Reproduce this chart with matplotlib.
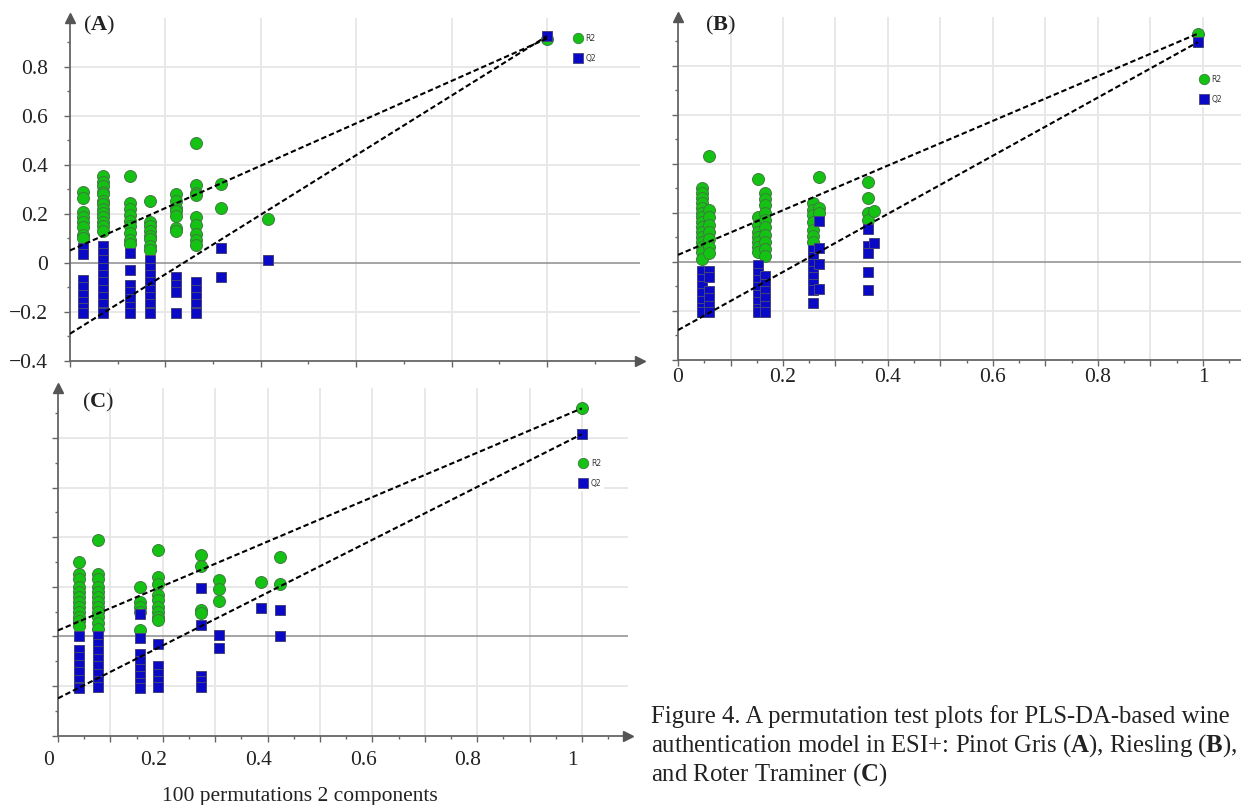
import numpy as np
import matplotlib
matplotlib.use('Agg')
import matplotlib.pyplot as plt
from matplotlib.lines import Line2D
import matplotlib.transforms as mtransforms

plt.rcParams['font.family'] = ['Liberation Serif', 'DejaVu Serif']
plt.rcParams['mathtext.fontset'] = 'custom'
plt.rcParams['mathtext.rm'] = 'Liberation Serif'
plt.rcParams['mathtext.bf'] = 'Liberation Serif:bold'

# ---------------- data ----------------
# Panel A (Pinot Gris)
a_cols = [0.027, 0.069, 0.126, 0.168, 0.222, 0.264, 0.317, 0.415]
a_r2 = [[0.287, 0.265, 0.208, 0.188, 0.167, 0.147, 0.113, 0.10],
        [0.355, 0.33, 0.313, 0.29, 0.279, 0.25, 0.238, 0.22, 0.202, 0.185, 0.167, 0.15, 0.129],
        [0.355, 0.242, 0.22, 0.195, 0.17, 0.15, 0.12, 0.093, 0.075],
        [0.253, 0.167, 0.15, 0.13, 0.11, 0.095, 0.07, 0.052],
        [0.28, 0.25, 0.225, 0.21, 0.19, 0.14, 0.13],
        [0.49, 0.316, 0.285, 0.275, 0.187, 0.153, 0.119, 0.092, 0.072],
        [0.32, 0.225],
        [0.18]]
a_q2 = [[0.06, 0.035, -0.07, -0.10, -0.13, -0.16, -0.185, -0.205],
        [0.07, 0.04, 0.01, -0.02, -0.05, -0.08, -0.11, -0.14, -0.17, -0.2, -0.205],
        [0.038, -0.03, -0.09, -0.12, -0.15, -0.18, -0.205],
        [0.01, -0.02, -0.05, -0.08, -0.11, -0.14, -0.17, -0.2, -0.205],
        [-0.057, -0.091, -0.118, -0.206],
        [-0.08, -0.11, -0.14, -0.17, -0.2, -0.205],
        [0.06, -0.06],
        [0.01]]
a_model_x, a_model_r2, a_model_q2 = 1.0, 0.915, 0.925
a_int_r2, a_int_q2 = 0.05, -0.29

# Panel B (Riesling)
b_cols = [0.045, 0.059, 0.152, 0.166, 0.257, 0.269, 0.362, 0.374]
b_r2 = [[0.30, 0.28, 0.26, 0.24, 0.22, 0.20, 0.18, 0.16, 0.14, 0.12, 0.10, 0.08, 0.06, 0.04, 0.01],
        [0.43, 0.21, 0.18, 0.15, 0.12, 0.09, 0.06, 0.035],
        [0.336, 0.18, 0.15, 0.12, 0.10, 0.08, 0.06, 0.04],
        [0.281, 0.255, 0.23, 0.20, 0.17, 0.14, 0.11, 0.08, 0.05, 0.022],
        [0.24, 0.21, 0.19, 0.16, 0.13, 0.105, 0.081],
        [0.346, 0.22, 0.20],
        [0.326, 0.258, 0.197, 0.17],
        [0.207]]
b_q2 = [[-0.04, -0.07, -0.10, -0.13, -0.16, -0.19, -0.205],
        [-0.04, -0.065, -0.12, -0.15, -0.18, -0.205],
        [-0.015, -0.045, -0.075, -0.105, -0.135, -0.165, -0.195, -0.205],
        [-0.06, -0.09, -0.12, -0.15, -0.18, -0.205],
        [0.047, 0.02, -0.01, -0.04, -0.065, -0.09, -0.116, -0.17],
        [0.167, 0.056, -0.012, -0.112],
        [0.133, 0.063, 0.033, -0.044, -0.116],
        [0.074]]
b_model_x, b_model_r2, b_model_q2 = 0.99, 0.93, 0.895
b_int_r2, b_int_q2 = 0.027, -0.28

# Panel C (Roter Traminer)
c_cols = [0.04, 0.076, 0.156, 0.19, 0.272, 0.307, 0.387, 0.423]
c_r2 = [[0.30, 0.25, 0.23, 0.20, 0.18, 0.16, 0.14, 0.12, 0.10, 0.08, 0.06, 0.04],
        [0.388, 0.25, 0.23, 0.20, 0.18, 0.16, 0.14, 0.12, 0.10, 0.08, 0.055, 0.03],
        [0.20, 0.14, 0.12, 0.10, 0.024],
        [0.35, 0.24, 0.21, 0.165, 0.145, 0.12, 0.10, 0.08, 0.065],
        [0.33, 0.284, 0.108, 0.095],
        [0.226, 0.193, 0.143],
        [0.22],
        [0.32, 0.213]]
c_q2 = [[0.0, -0.055, -0.085, -0.115, -0.145, -0.175, -0.205, -0.21],
        [0.0, -0.03, -0.06, -0.09, -0.12, -0.15, -0.18, -0.205],
        [0.089, -0.005, -0.07, -0.10, -0.13, -0.16, -0.19, -0.21],
        [-0.032, -0.12, -0.15, -0.18, -0.205],
        [0.195, 0.044, -0.158, -0.18, -0.205],
        [0.004, -0.047],
        [0.113],
        [0.105, 0.0]]
c_model_x, c_model_r2, c_model_q2 = 1.0, 0.92, 0.816
c_int_r2, c_int_q2 = 0.024, -0.25

x_tick_labels = ['0', '0.2', '0.4', '0.6', '0.8', '1']
y_tick_labels = ['\u22120.4', '\u22120.2', '0', '0.2', '0.4', '0.6', '0.8']
legend_labels = ['R2', 'Q2']
xlabel_text = '100 permutations 2 components'
caption_lines = ['Figure 4. A permutation test plots for PLS-DA-based wine',
                 r'authentication model in ESI+: Pinot Gris ($\mathbf{A}$), Riesling ($\mathbf{B}$),',
                 r'and Roter Traminer ($\mathbf{C}$)']

# ---------------- style ----------------
W, H = 1241, 805
fig = plt.figure(figsize=(W / 100, H / 100), dpi=100)
fig.patch.set_facecolor('white')

GREEN, GREEN_E = '#14c214', '#3f7a3f'
BLUE, BLUE_E = '#0a0ac6', '#45457a'
GRID = '#e6e6e6'
AXC = '#666666'
MS_C, MS_S = 8.6, 7.9


def px_axes(left, right, top, bottom):
    return fig.add_axes([left / W, 1 - bottom / H, (right - left) / W, (bottom - top) / H])


def flat(cols, vals):
    xs, ys = [], []
    for x, col in zip(cols, vals):
        for v in col:
            xs.append(x)
            ys.append(v)
    return xs, ys


def panel(ax, xmax, xmajor, xminor, gridx, cols, r2, q2, mx, mr2, mq2, ir2, iq2,
          show_y, show_x, xpad):
    ax.set_xlim(0, xmax)
    ax.set_ylim(-0.4, 1.0)
    for s in ['top', 'right']:
        ax.spines[s].set_visible(False)
    for s in ['left', 'bottom']:
        ax.spines[s].set_color(AXC)
        ax.spines[s].set_linewidth(1.3)
    for gy in [-0.2, 0.2, 0.4, 0.6, 0.8]:
        ax.axhline(gy, color=GRID, lw=1.3, zorder=0)
    for gx in gridx:
        ax.axvline(gx, color=GRID, lw=1.3, zorder=0)
    ax.axhline(0, color='#8c8c8c', lw=1.1, zorder=0.5)

    ax.set_yticks(np.round(np.arange(-0.4, 0.81, 0.2), 2))
    ax.set_yticks(np.round(np.arange(-0.3, 0.91, 0.2), 2), minor=True)
    ax.set_xticks(xmajor)
    ax.set_xticks(xminor, minor=True)
    ax.tick_params(which='major', direction='out', length=4.5, width=1, color=AXC,
                   labelsize=15.5, labelcolor='#222222')
    ax.tick_params(which='minor', direction='out', length=2.5, width=1, color=AXC)
    ax.tick_params(axis='y', pad=11.5)
    ax.tick_params(axis='x', pad=xpad)
    if show_y:
        ax.set_yticklabels(y_tick_labels)
    else:
        ax.set_yticklabels([])
    if show_x:
        labs = []
        for v in xmajor:
            r = round(v * 5)
            labs.append(x_tick_labels[r] if abs(v * 5 - r) < 1e-6 and r < len(x_tick_labels) else '')
        ax.set_xticklabels(labs)
    else:
        ax.set_xticklabels([])

    rx, ry = flat(cols, r2)
    qx, qy = flat(cols, q2)
    ax.plot(rx + [mx], ry + [mr2], ls='none', marker='o', ms=MS_C, mfc=GREEN, mec=GREEN_E,
            mew=0.7, zorder=3, clip_on=False)
    ax.plot(qx + [mx], qy + [mq2], ls='none', marker='s', ms=MS_S, mfc=BLUE, mec=BLUE_E,
            mew=0.7, zorder=4, clip_on=False)
    ax.plot([0, mx], [ir2, mr2], color='black', lw=1.5, dashes=(2.6, 1.4), zorder=5)
    ax.plot([0, mx], [iq2, mq2], color='black', lw=1.5, dashes=(2.6, 1.4), zorder=5)

    # axis arrows
    ax.plot([0], [1], marker='^', ms=6.5, color='#555555', transform=ax.transAxes,
            clip_on=False, zorder=6)
    ax.plot([1], [0], marker='>', ms=6.5, color='#555555', transform=ax.transAxes,
            clip_on=False, zorder=6)


def legend(ax, xpx, ypx):
    handles = [Line2D([], [], ls='none', marker='o', ms=7.5, mfc=GREEN, mec=GREEN_E, mew=0.6),
               Line2D([], [], ls='none', marker='s', ms=7.0, mfc=BLUE, mec=BLUE_E, mew=0.6)]
    leg = ax.legend(handles, legend_labels, loc='upper left',
                    bbox_to_anchor=(xpx / W, 1 - ypx / H), bbox_transform=fig.transFigure,
                    frameon=True, fancybox=False, framealpha=1, edgecolor='white',
                    prop={'family': 'DejaVu Sans', 'size': 5.5},
                    handlelength=1.0, handletextpad=0.55, labelspacing=1.45,
                    borderpad=0.25, borderaxespad=0)
    leg.set_zorder(7)
    for t in leg.get_texts():
        t.set_color('#333333')


# Panel A
axA = px_axes(70, 640, 17.7, 360.7)
panel(axA, 1.195, np.round(np.arange(0, 1.01, 0.2), 2), np.round(np.arange(0.1, 1.2, 0.2), 2),
      [0.2, 0.4, 0.6, 0.8, 1.0], a_cols, a_r2, a_q2, a_model_x, a_model_r2, a_model_q2,
      a_int_r2, a_int_q2, True, False, 3)
legend(axA, 572, 32)

# Panel B
axB = px_axes(678, 1255.5, 16.5, 359.5)
panel(axB, 1.1, np.round(np.arange(0, 1.01, 0.1), 2), np.round(np.arange(0.05, 1.1, 0.1), 3),
      list(np.round(np.arange(0.1, 1.01, 0.1), 2)), b_cols, b_r2, b_q2, b_model_x, b_model_r2,
      b_model_q2, b_int_r2, b_int_q2, False, True, 1.5)
legend(axB, 1198, 73)

# Panel C
axC = px_axes(58, 628, 388.5, 735.5)
panel(axC, 1.088, np.round(np.arange(0, 1.01, 0.1), 2), np.round(np.arange(0.05, 1.09, 0.1), 3),
      list(np.round(np.arange(0.1, 1.01, 0.1), 2)), c_cols, c_r2, c_q2, c_model_x, c_model_r2,
      c_model_q2, c_int_r2, c_int_q2, False, True, 6.5)
legend(axC, 577, 457)
off = mtransforms.ScaledTranslation(-9 / 100, 0, fig.dpi_scale_trans)
for lab in axC.get_xticklabels():
    lab.set_transform(lab.get_transform() + off)

# panel labels
fig.text(99 / W, 1 - 25 / H, r'($\mathbf{A}$)', ha='center', va='center', fontsize=16, color='#222222')
fig.text(720 / W, 1 - 25 / H, r'($\mathbf{B}$)', ha='center', va='center', fontsize=16, color='#222222')
fig.text(98 / W, 1 - 402 / H, r'($\mathbf{C}$)', ha='center', va='center', fontsize=16, color='#222222')

# x label
fig.text(300 / W, 1 - 796 / H, xlabel_text, ha='center', va='center', fontsize=15.5, color='#222222')

# caption
for i, line in enumerate(caption_lines):
    fig.text(651 / W, 1 - (723 + 28.8 * i) / H, line, ha='left', va='baseline',
             fontsize=17.8, color='#222222')

fig.savefig('out.png', dpi=100, facecolor='white')
